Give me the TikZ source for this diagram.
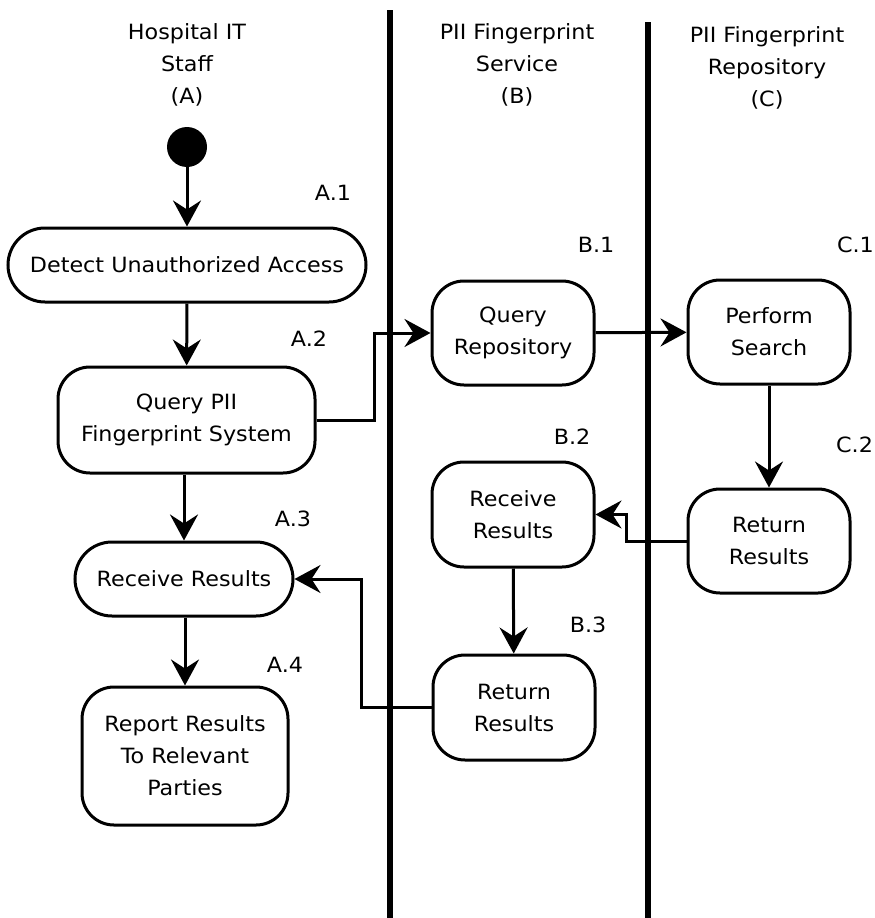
\documentclass[tikz,border=0pt]{standalone}
\usepackage{fontspec}
\setmainfont{DejaVu Sans}[FakeStretch=1.06]
\usetikzlibrary{arrows.meta}

\tikzset{
    act/.style={draw, line width=3pt, rounded corners=32pt, align=center, inner sep=0pt},
    flow/.style={line width=3pt, -{Stealth[length=26pt,width=28pt,inset=9pt]}},
    lane/.style={line width=6pt},
    tag/.style={inner sep=0pt},
    head/.style={align=center, inner sep=0pt},
}

\begin{document}
\begin{tikzpicture}[x=1pt, y=-1pt, font=\fontsize{21}{32}\selectfont]
            \useasboundingbox (0, 0) rectangle (875, 918);
            %swimlanes
            \draw[lane] (390, 10) -- (390, 918);
            \draw[lane] (648, 22) -- (648, 918);
            \node[head] (headA) at (187, 65) {Hospital IT\\Staff\\(A)};
            \node[head] (headB) at (517, 65) {PII Fingerprint\\Service\\(B)};
            \node[head] (headC) at (767, 68) {PII Fingerprint\\Repository\\(C)};
            %activities
            \node[circle, fill=black, minimum size=40pt, inner sep=0pt] (start) at (187, 147) {};
            \node[act, rounded corners=37pt, minimum width=358pt, minimum height=74pt] (a1) at (187, 265) {Detect Unauthorized Access};
            \node[act, minimum width=257pt, minimum height=106pt] (a2) at (186.5, 420) {Query PII\\Fingerprint System};
            \node[act, rounded corners=37pt, minimum width=218pt, minimum height=74pt] (a3) at (184, 579) {Receive Results};
            \node[act, minimum width=206pt, minimum height=138pt] (a4) at (185, 756) {Report Results\\To Relevant\\Parties};
            \node[act, minimum width=162pt, minimum height=104pt] (b1) at (513, 333) {Query\\Repository};
            \node[act, minimum width=162pt, minimum height=105pt] (b2) at (513, 514.5) {Receive\\Results};
            \node[act, minimum width=162pt, minimum height=105pt] (b3) at (514, 707.5) {Return\\Results};
            \node[act, minimum width=162pt, minimum height=104pt] (c1) at (769, 332) {Perform\\Search};
            \node[act, minimum width=162pt, minimum height=104pt] (c2) at (769, 541) {Return\\Results};
            %step labels
            \node[tag] (la1) at (333, 193) {A.1};
            \node[tag] (la2) at (309, 339) {A.2};
            \node[tag] (la3) at (293, 519) {A.3};
            \node[tag] (la4) at (285, 665) {A.4};
            \node[tag] (lb1) at (596, 245) {B.1};
            \node[tag] (lb2) at (572, 437) {B.2};
            \node[tag] (lb3) at (588, 625) {B.3};
            \node[tag, anchor=east] (lc1) at (874, 245) {C.1};
            \node[tag, anchor=west] (lc2) at (836, 445) {C.2};
            %flows
            \draw[flow] (start) -- (a1);
            \draw[flow] (a1) -- (a2);
            \draw[flow] (a2.south -| a3) -- (a3);
            \draw[flow] (a3.south -| a4) -- (a4);
            \draw[flow] (a2.east) -- ++(58, 0) |- (b1.west);
            \draw[flow] (b1) -- (c1);
            \draw[flow] (c1) -- (c2);
            \draw[flow] (c2.west) -- ++(-60, 0) |- (b2.east);
            \draw[flow] (b2) -- (b3);
            \draw[flow] (b3.west) -- ++(-70, 0) |- (a3.east);
        \end{tikzpicture}
\end{document}
